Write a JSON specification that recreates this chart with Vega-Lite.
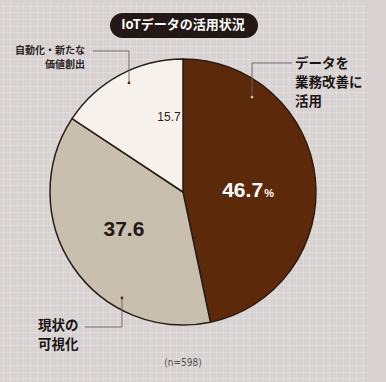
{
  "$schema": "https://vega.github.io/schema/vega-lite/v6.json",
  "autosize": {"type": "fit", "contains": "padding"},
  "width": 386,
  "height": 382,
  "padding": {"left": 0, "right": 20, "top": 2, "bottom": 0},
  "background": "#d9d2d2",
  "config": {"view": {"stroke": null}},
  "datasets": {
    "slices": [
      {"cat": "データを業務改善に活用", "value": 46.7, "order": 1},
      {"cat": "現状の可視化", "value": 37.6, "order": 2},
      {"cat": "自動化・新たな価値創出", "value": 15.7, "order": 3}
    ],
    "pill": [{"x": -0.549, "x2": 0.564, "y": 1.158, "y2": 1.346}],
    "leaders": [
      {"x": -0.677, "y": 1.06, "x2": -0.406, "y2": 1.06},
      {"x": -0.406, "y": 1.06, "x2": -0.406, "y2": 0.82},
      {"x": 0.519, "y": 0.97, "x2": 0.82, "y2": 0.97},
      {"x": 0.519, "y": 0.97, "x2": 0.519, "y2": 0.714},
      {"x": -0.737, "y": -1.015, "x2": -0.459, "y2": -1.015},
      {"x": -0.459, "y": -1.015, "x2": -0.459, "y2": -0.797}
    ],
    "dots": [
      {"x": -0.406, "y": 0.82, "c": "dark"},
      {"x": 0.519, "y": 0.714, "c": "light"},
      {"x": -0.459, "y": -0.797, "c": "dark"}
    ],
    "notes": [
      {"x": 0.0, "y": 1.252, "text": "IoTデータの活用状況", "kind": "title"},
      {"x": -0.737, "y": 1.063, "text": "自動化・新たな", "kind": "small"},
      {"x": -0.737, "y": 0.952, "text": "価値創出", "kind": "small"},
      {"x": 0.842, "y": 0.966, "text": "データを", "kind": "big"},
      {"x": 0.842, "y": 0.82, "text": "業務改善に", "kind": "big"},
      {"x": 0.842, "y": 0.674, "text": "活用", "kind": "big"},
      {"x": -1.09, "y": -1.004, "text": "現状の", "kind": "big"},
      {"x": -1.09, "y": -1.15, "text": "可視化", "kind": "big"},
      {"x": 0.0, "y": -1.286, "text": "(n=598)", "kind": "n"},
      {"x": 0.602, "y": -0.038, "text": "46.7", "kind": "v1"},
      {"x": 0.61, "y": -0.038, "text": "%", "kind": "pct"},
      {"x": -0.444, "y": -0.286, "text": "37.6", "kind": "v2"},
      {"x": -0.105, "y": 0.564, "text": "15.7", "kind": "v3"}
    ]
  },
  "layer": [
    {
      "data": {"name": "pill"},
      "mark": {"type": "rect", "opacity": 0},
      "encoding": {
        "x": {"field": "x", "type": "quantitative", "scale": {"domain": [-1.376, 1.376], "nice": false, "zero": false},
              "axis": {"grid": true, "labels": false, "ticks": false, "domain": false, "title": null, "gridColor": "#ffffff", "gridOpacity": 0.2, "tickCount": 50}},
        "x2": {"field": "x2"},
        "y": {"field": "y", "type": "quantitative", "scale": {"domain": [-1.4286, 1.4286], "nice": false, "zero": false},
              "axis": {"grid": true, "labels": false, "ticks": false, "domain": false, "title": null, "gridColor": "#ffffff", "gridOpacity": 0.2, "tickCount": 50}},
        "y2": {"field": "y2"}
      }
    },
    {
      "data": {"name": "slices"},
      "mark": {"type": "arc", "outerRadius": 133, "stroke": "#2b1d14", "strokeWidth": 1.5},
      "encoding": {
        "theta": {"field": "value", "type": "quantitative", "stack": true},
        "color": {"field": "cat", "type": "nominal", "legend": null,
                  "scale": {"domain": ["データを業務改善に活用", "現状の可視化", "自動化・新たな価値創出"], "range": ["#5c2a0b", "#c9bfae", "#f6f1ea"]}},
        "order": {"field": "order", "type": "quantitative"}
      }
    },
    {
      "data": {"name": "leaders"},
      "mark": {"type": "rule", "color": "#6b6262", "strokeWidth": 0.9},
      "encoding": {
        "x": {"field": "x", "type": "quantitative"},
        "y": {"field": "y", "type": "quantitative"},
        "x2": {"field": "x2"},
        "y2": {"field": "y2"}
      }
    },
    {
      "data": {"name": "dots"},
      "mark": {"type": "point", "filled": true, "size": 8, "opacity": 1},
      "encoding": {
        "x": {"field": "x", "type": "quantitative"},
        "y": {"field": "y", "type": "quantitative"},
        "color": {"field": "c", "type": "nominal", "legend": null, "scale": {"domain": ["dark", "light"], "range": ["#3a2a22", "#e9dccf"]}}
      }
    },
    {
      "data": {"name": "pill"},
      "mark": {"type": "rect", "color": "#231815", "cornerRadius": 12.5},
      "encoding": {
        "x": {"field": "x", "type": "quantitative"},
        "x2": {"field": "x2"},
        "y": {"field": "y", "type": "quantitative"},
        "y2": {"field": "y2"}
      }
    },
    {
      "data": {"name": "notes"},
      "transform": [{"filter": "datum.kind == 'title'"}],
      "mark": {"type": "text", "font": "Noto Sans CJK JP", "fontWeight": "bold", "fontSize": 13, "color": "#ffffff", "align": "center", "baseline": "middle"},
      "encoding": {"x": {"field": "x", "type": "quantitative"}, "y": {"field": "y", "type": "quantitative"}, "text": {"field": "text"}}
    },
    {
      "data": {"name": "notes"},
      "transform": [{"filter": "datum.kind == 'small'"}],
      "mark": {"type": "text", "font": "Noto Sans CJK JP", "fontWeight": "bold", "fontSize": 10, "color": "#2a2424", "align": "right", "baseline": "middle"},
      "encoding": {"x": {"field": "x", "type": "quantitative"}, "y": {"field": "y", "type": "quantitative"}, "text": {"field": "text"}}
    },
    {
      "data": {"name": "notes"},
      "transform": [{"filter": "datum.kind == 'big'"}],
      "mark": {"type": "text", "font": "Noto Sans CJK JP", "fontWeight": "bold", "fontSize": 13.5, "color": "#1a1515", "align": "left", "baseline": "middle"},
      "encoding": {"x": {"field": "x", "type": "quantitative"}, "y": {"field": "y", "type": "quantitative"}, "text": {"field": "text"}}
    },
    {
      "data": {"name": "notes"},
      "transform": [{"filter": "datum.kind == 'n'"}],
      "mark": {"type": "text", "font": "DejaVu Sans Condensed", "fontSize": 10, "color": "#555050", "align": "center", "baseline": "middle"},
      "encoding": {"x": {"field": "x", "type": "quantitative"}, "y": {"field": "y", "type": "quantitative"}, "text": {"field": "text"}}
    },
    {
      "data": {"name": "notes"},
      "transform": [{"filter": "datum.kind == 'v1'"}],
      "mark": {"type": "text", "font": "Liberation Sans", "fontWeight": "bold", "fontSize": 21, "color": "#ffffff", "align": "right", "baseline": "alphabetic"},
      "encoding": {"x": {"field": "x", "type": "quantitative"}, "y": {"field": "y", "type": "quantitative"}, "text": {"field": "text"}}
    },
    {
      "data": {"name": "notes"},
      "transform": [{"filter": "datum.kind == 'pct'"}],
      "mark": {"type": "text", "font": "Liberation Sans", "fontWeight": "bold", "fontSize": 11, "color": "#ffffff", "align": "left", "baseline": "alphabetic"},
      "encoding": {"x": {"field": "x", "type": "quantitative"}, "y": {"field": "y", "type": "quantitative"}, "text": {"field": "text"}}
    },
    {
      "data": {"name": "notes"},
      "transform": [{"filter": "datum.kind == 'v2'"}],
      "mark": {"type": "text", "font": "Liberation Sans", "fontWeight": "bold", "fontSize": 21, "color": "#1f1a18", "align": "center", "baseline": "middle"},
      "encoding": {"x": {"field": "x", "type": "quantitative"}, "y": {"field": "y", "type": "quantitative"}, "text": {"field": "text"}}
    },
    {
      "data": {"name": "notes"},
      "transform": [{"filter": "datum.kind == 'v3'"}],
      "mark": {"type": "text", "font": "Liberation Sans", "fontSize": 12, "color": "#2a2424", "align": "center", "baseline": "middle"},
      "encoding": {"x": {"field": "x", "type": "quantitative"}, "y": {"field": "y", "type": "quantitative"}, "text": {"field": "text"}}
    }
  ]
}
